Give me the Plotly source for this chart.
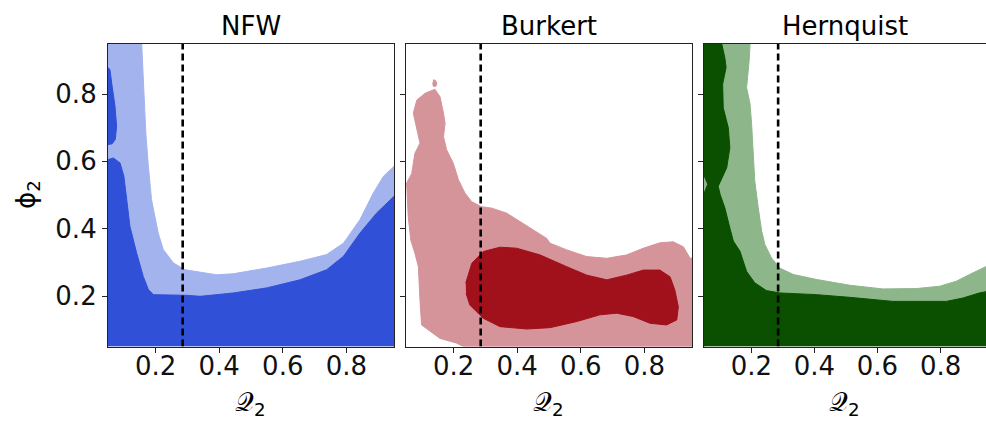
import plotly.graph_objects as go

# ---------------- data (contour boundaries) ----------------
panel_titles = ["NFW", "Burkert", "Hernquist"]
q2_reference = 0.285
tick_values = [0.2, 0.4, 0.6, 0.8]
tick_labels = ["0.2", "0.4", "0.6", "0.8"]
q2_range = [0.05, 0.95]
phi2_range = [0.05, 0.95]

# NFW: outer (light) region
nfw_outer_q = [0.05, 0.05, 0.156, 0.163, 0.169, 0.177, 0.187, 0.208, 0.224, 0.256, 0.292,
               0.392, 0.444, 0.549, 0.654, 0.738, 0.791, 0.843, 0.885, 0.917, 0.95, 0.95]
nfw_outer_phi = [0.05, 0.95, 0.95, 0.823, 0.684, 0.585, 0.486, 0.387, 0.338, 0.298, 0.278,
                 0.263, 0.266, 0.283, 0.303, 0.323, 0.357, 0.427, 0.506, 0.556, 0.585, 0.05]
# NFW: inner (dark) region, main part
nfw_inner_q = [0.05, 0.05, 0.067, 0.088, 0.100, 0.109, 0.119, 0.140, 0.161, 0.177, 0.193,
               0.298, 0.340, 0.444, 0.549, 0.654, 0.738, 0.791, 0.843, 0.896, 0.95, 0.95]
nfw_inner_phi = [0.05, 0.605, 0.610, 0.595, 0.556, 0.486, 0.407, 0.328, 0.258, 0.219, 0.204,
                 0.202, 0.199, 0.209, 0.224, 0.248, 0.278, 0.318, 0.387, 0.447, 0.496, 0.05]
# NFW: inner (dark) region, small island at the left edge
nfw_island_q = [0.05, 0.056, 0.063, 0.072, 0.077, 0.073, 0.063, 0.05]
nfw_island_phi = [0.878, 0.873, 0.823, 0.764, 0.704, 0.665, 0.652, 0.650]

# Burkert: outer (light) region
bur_outer_q = [0.05, 0.052, 0.057, 0.065, 0.078, 0.089, 0.094, 0.099, 0.157, 0.210, 0.230,
               0.95, 0.95, 0.944, 0.923, 0.891, 0.849, 0.797, 0.744, 0.682, 0.619, 0.556,
               0.503, 0.493, 0.451, 0.409, 0.367, 0.320, 0.288, 0.257, 0.236, 0.215, 0.199,
               0.178, 0.168, 0.173, 0.168, 0.157, 0.141, 0.110, 0.084, 0.073, 0.084, 0.094,
               0.078, 0.068, 0.052]
bur_outer_phi = [0.53, 0.535, 0.436, 0.366, 0.327, 0.287, 0.188, 0.114, 0.074, 0.060, 0.05,
                 0.05, 0.313, 0.312, 0.346, 0.361, 0.358, 0.342, 0.322, 0.312, 0.317, 0.337,
                 0.357, 0.371, 0.396, 0.421, 0.446, 0.461, 0.465, 0.480, 0.505, 0.545, 0.594,
                 0.634, 0.673, 0.713, 0.743, 0.792, 0.814, 0.802, 0.782, 0.743, 0.693, 0.654,
                 0.624, 0.564, 0.535]
# Burkert: tiny detached outer island
bur_dot_q = [0.135, 0.143, 0.147, 0.144, 0.136, 0.134]
bur_dot_phi = [0.842, 0.840, 0.832, 0.823, 0.823, 0.833]
# Burkert: inner (dark) region
bur_inner_q = [0.238, 0.257, 0.293, 0.346, 0.398, 0.472, 0.556, 0.619, 0.682, 0.744, 0.797,
               0.849, 0.881, 0.896, 0.907, 0.902, 0.870, 0.818, 0.765, 0.713, 0.660, 0.587,
               0.503, 0.430, 0.346, 0.293, 0.251, 0.239]
bur_inner_phi = [0.238, 0.297, 0.332, 0.345, 0.342, 0.322, 0.287, 0.262, 0.248, 0.262, 0.277,
                 0.277, 0.257, 0.218, 0.168, 0.129, 0.114, 0.119, 0.139, 0.149, 0.144, 0.124,
                 0.106, 0.102, 0.109, 0.134, 0.173, 0.208]

# Hernquist: outer (light) region
her_outer_q = [0.05, 0.05, 0.196, 0.193, 0.185, 0.196, 0.201, 0.206, 0.211, 0.222, 0.233,
               0.243, 0.264, 0.290, 0.333, 0.407, 0.512, 0.617, 0.723, 0.797, 0.850, 0.892,
               0.923, 0.95, 0.95]
her_outer_phi = [0.05, 0.95, 0.95, 0.898, 0.819, 0.770, 0.710, 0.631, 0.541, 0.462, 0.392,
                 0.353, 0.313, 0.283, 0.264, 0.249, 0.232, 0.221, 0.222, 0.229, 0.244, 0.264,
                 0.278, 0.290, 0.05]
# Hernquist: inner (dark) region
her_inner_q = [0.05, 0.05, 0.062, 0.05, 0.05, 0.106, 0.116, 0.120, 0.109, 0.111, 0.127,
               0.132, 0.122, 0.095, 0.101, 0.116, 0.132, 0.143, 0.164, 0.185, 0.211, 0.248,
               0.291, 0.407, 0.512, 0.649, 0.818, 0.871, 0.923, 0.95, 0.95]
her_inner_phi = [0.05, 0.505, 0.532, 0.558, 0.95, 0.95, 0.908, 0.879, 0.829, 0.759, 0.700,
                 0.640, 0.581, 0.526, 0.502, 0.462, 0.402, 0.363, 0.333, 0.273, 0.239, 0.216,
                 0.209, 0.204, 0.196, 0.184, 0.184, 0.194, 0.209, 0.214, 0.05]

# colours
dark_colors = ["#3050D8", "#A0111C", "#0A5000"]
light_colors = ["#A3B3EE", "#D4949A", "#8DB68A"]

# ---------------- figure ----------------
W, H = 986, 423
x_domains = [[108 / W, 394 / W], [406 / W, 692 / W], [704 / W, 1.0]]
x_ranges = [q2_range, q2_range, [q2_range[0], 0.944]]
y_domain = [1 - 346.5 / H, 1 - 43.5 / H]

fig = go.Figure()

panels = [
    [(nfw_outer_q, nfw_outer_phi, 1), (nfw_inner_q, nfw_inner_phi, 0), (nfw_island_q, nfw_island_phi, 0)],
    [(bur_outer_q, bur_outer_phi, 1), (bur_dot_q, bur_dot_phi, 1), (bur_inner_q, bur_inner_phi, 0)],
    [(her_outer_q, her_outer_phi, 1), (her_inner_q, her_inner_phi, 0)],
]

for i, regions in enumerate(panels):
    xa = "x" if i == 0 else f"x{i + 1}"
    ya = "y" if i == 0 else f"y{i + 1}"
    for qs, ps, light in regions:
        col = light_colors[i] if light else dark_colors[i]
        fig.add_trace(go.Scatter(
            x=qs, y=ps, mode="lines", fill="toself", fillcolor=col,
            line=dict(color=col, width=1), xaxis=xa, yaxis=ya,
            showlegend=False, hoverinfo="skip"))
    # dashed reference line
    fig.add_trace(go.Scatter(
        x=[q2_reference, q2_reference], y=phi2_range, mode="lines",
        line=dict(color="black", width=2.6, dash="7px,4px"),
        xaxis=xa, yaxis=ya, showlegend=False, hoverinfo="skip"))

font = "DejaVu Sans, Liberation Sans, sans-serif"
layout = dict(
    width=W, height=H, margin=dict(l=0, r=0, t=0, b=0, autoexpand=False),
    paper_bgcolor="white", plot_bgcolor="white",
    font=dict(family=font, color="black", size=26),
)
for i in range(3):
    xk = "xaxis" if i == 0 else f"xaxis{i + 1}"
    yk = "yaxis" if i == 0 else f"yaxis{i + 1}"
    layout[xk] = dict(
        domain=x_domains[i], range=x_ranges[i], anchor="y" if i == 0 else f"y{i + 1}",
        tickvals=tick_values, ticktext=tick_labels, ticks="outside", ticklen=5,
        tickwidth=1, tickcolor="#222", showgrid=False, zeroline=False,
        showline=True, linecolor="#222", linewidth=1.2, mirror=True, automargin=False,
        tickfont=dict(size=26, family=font, color="#111"), ticklabelstandoff=-9)
    layout[yk] = dict(
        domain=y_domain, range=phi2_range, anchor="x" if i == 0 else f"x{i + 1}",
        tickvals=tick_values, ticktext=tick_labels, showticklabels=(i == 0),
        ticks="outside", ticklen=5, tickwidth=1, tickcolor="#222",
        showgrid=False, zeroline=False, showline=True, linecolor="#222",
        linewidth=1.2, mirror=(i < 2), automargin=False,
        tickfont=dict(size=26, family=font, color="#111"), ticklabelstandoff=0)
fig.update_layout(**layout)

# panel titles and axis labels
centers = [251, 549, 845]
for i, t in enumerate(panel_titles):
    fig.add_annotation(text=t, x=centers[i] / W, y=1 - 26 / H, xref="paper", yref="paper",
                       showarrow=False, xanchor="center", yanchor="middle",
                       font=dict(size=26, family=font, color="black"))
    fig.add_annotation(text="𝒬<sub>2</sub>", x=(centers[i] - 1) / W, y=1 - 403 / H,
                       xref="paper", yref="paper", showarrow=False,
                       xanchor="center", yanchor="middle",
                       font=dict(size=26, family=font, color="black"))
fig.add_annotation(text="ϕ<sub>2</sub>", x=27 / W, y=1 - 195 / H, xref="paper", yref="paper",
                   showarrow=False, textangle=-90, xanchor="center", yanchor="middle",
                   font=dict(size=26, family=font, color="black"))

fig.write_html("out.html", config={"displayModeBar": False},
               post_script="document.body.style.margin='0';document.body.style.overflow='hidden';")
